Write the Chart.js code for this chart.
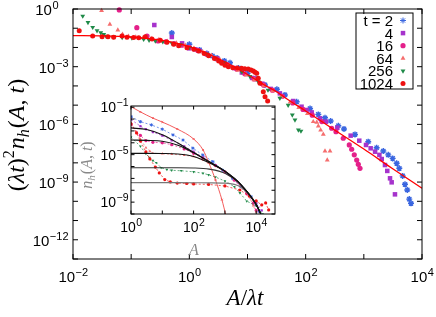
<!DOCTYPE html>
<html lang="en">
  <head>
    <meta charset="UTF-8" />
    <title>scaling collapse</title>
    <script src="https://cdn.jsdelivr.net/npm/chart.js@4.4.1/dist/chart.umd.min.js"></script>
    <style>
      html, body { margin: 0; padding: 0; background: #fff; }
      #wrap { position: relative; width: 436px; height: 317px; }
      #mainChart { position: absolute; left: 0; top: 0; }
      #insetChart { position: absolute; left: 70px; top: 96px; }
    </style>
  </head>
  <body>
    <div id="wrap">
      <canvas id="mainChart" width="436" height="317"></canvas>
      <canvas id="insetChart" width="210" height="166"></canvas>
    </div>
    <script>
      // ---- data ----
      const seriesLabels = ['t = 2', '4', '16', '64', '256', '1024'];
      const seriesColors = ['#3a66e0', '#a633cc', '#e4208a', '#f56e6e', '#1f8a48', '#ee1111'];

      // main plot: (lambda t)^2 n_h  vs  A / lambda t
      const t2X = [0.5, 1.0, 1.5, 2.0, 2.5, 3, 4, 5, 7, 10, 14, 20, 32, 44, 70, 119, 165, 215, 269, 364, 456, 705, 1190, 1660, 2160, 2630, 3130, 3670, 4070, 4650, 5100, 5580, 6040, 6470];
      const t2Y = [5.6e-2, 1.46e-2, 7.4e-3, 4.8e-3, 3.6e-3, 2.8e-3, 2.0e-3, 1.6e-3, 8.5e-4, 4.6e-4, 2.4e-4, 1.12e-4, 6.7e-5, 3.4e-5, 1.5e-5, 6.7e-6, 3.3e-6, 2.2e-6, 1.5e-6, 8.5e-7, 5.8e-7, 3.0e-7, 1.26e-7, 6.1e-8, 4.1e-8, 2.6e-8, 1.7e-8, 9.5e-9, 5.2e-9, 2.1e-9, 7.7e-10, 3.9e-10, 1.3e-10, 7.9e-11];
      const t4X = [0.25, 0.5, 0.75, 1.0, 1.25, 1.5, 2, 3, 4, 6, 8, 12, 18, 25, 36, 61, 85, 104, 127, 176, 223, 350, 594, 835, 1090, 1310, 1560, 1850, 2030, 2310, 2530, 2820, 3010, 3430];
      const t4Y = [0.147, 3.5e-2, 1.64e-2, 9.0e-3, 8.0e-3, 6.6e-3, 4.6e-3, 2.5e-3, 1.6e-3, 8.5e-4, 5e-4, 2.6e-4, 1.3e-4, 7e-5, 4.1e-5, 1.64e-5, 8.3e-6, 5.6e-6, 4.2e-6, 2.07e-6, 1.38e-6, 6.7e-7, 2.6e-7, 1.42e-7, 8.5e-8, 5.7e-8, 3.8e-8, 2.6e-8, 1.58e-8, 7.7e-9, 3.8e-9, 1.57e-9, 9.7e-10, 2.3e-10];
      const t16X = [0.0625, 0.125, 0.1875, 0.29, 0.4, 0.55, 0.75, 1.0, 1.4, 2, 3, 4.5, 6.5, 9, 13, 19, 27, 40, 60, 90, 130, 190, 280, 332, 443, 562, 618, 685, 754, 803, 859];
      const t16Y = [0.89, 0.107, 3.9e-2, 2.2e-2, 2.0e-2, 1.6e-2, 1.3e-2, 1.0e-2, 7.0e-3, 4.4e-3, 2.6e-3, 1.3e-3, 7.5e-4, 4.3e-4, 2.3e-4, 1.1e-4, 6e-5, 2.9e-5, 1.3e-5, 6e-6, 3.0e-6, 1.4e-6, 6.3e-7, 4.2e-7, 1.9e-7, 8.5e-8, 5.1e-8, 2.6e-8, 1.4e-8, 8.4e-9, 5.2e-9];
      const t64X = [0.031, 0.043, 0.059, 0.071, 0.09, 0.12, 0.16, 0.22, 0.3, 0.42, 0.6, 0.85, 1.2, 1.7, 2.4, 3.4, 4.8, 6.8, 9.5, 13, 19, 27, 38, 54, 76, 107, 135, 155, 165, 181, 201, 215, 235, 262];
      const t64Y = [0.82, 0.16, 8.1e-2, 4.8e-2, 3.8e-2, 3.5e-2, 3.2e-2, 2.9e-2, 2.6e-2, 2.1e-2, 1.7e-2, 1.3e-2, 9e-3, 6e-3, 3.9e-3, 2.2e-3, 1.2e-3, 6.5e-4, 3.7e-4, 2.1e-4, 1.05e-4, 5.5e-5, 2.8e-5, 1.45e-5, 7.5e-6, 3.6e-6, 1.38e-6, 1.29e-6, 8.2e-7, 5.1e-7, 3.05e-7, 4.1e-8, 1.4e-8, 4.1e-8];
      const t256X = [0.0147, 0.0181, 0.0218, 0.0259, 0.030, 0.0337, 0.037, 0.05, 0.07, 0.103, 0.164, 0.203, 0.26, 0.35, 0.5, 0.7, 1.0, 1.4, 2, 2.8, 4, 5.6, 8, 11, 15.3, 22.5, 36, 50, 59, 65.5, 75, 83];
      const t256Y = [0.43, 0.20, 0.112, 7.4e-2, 5.9e-2, 4.8e-2, 3.9e-2, 3.6e-2, 3.3e-2, 3.1e-2, 2.65e-2, 2.4e-2, 2.2e-2, 2.0e-2, 1.7e-2, 1.4e-2, 1.0e-2, 7e-3, 4.6e-3, 2.8e-3, 1.6e-3, 9e-4, 5.4e-4, 3.1e-4, 1.65e-4, 6.1e-5, 2.3e-5, 1.0e-5, 3.1e-6, 1.7e-6, 5.1e-7, 4.5e-7];
      const t1024X = [0.0128, 0.0218, 0.0316, 0.040, 0.050, 0.0695, 0.0847, 0.11, 0.135, 0.175, 0.228, 0.317, 0.413, 0.538, 0.656, 0.91, 1.2, 1.45, 1.8, 2.15, 2.7, 3.2, 3.6, 4.1, 4.7, 5.6, 6.7, 7.9, 9, 10.3, 11.5, 12.6, 13.5, 14.4, 15.3, 16.4, 18.7, 20, 22.2, 24.4];
      const t1024Y = [7.4e-2, 3.9e-2, 3.6e-2, 3.6e-2, 3.4e-2, 3.9e-2, 3.4e-2, 3.3e-2, 3.2e-2, 3.6e-2, 2.75e-2, 2.4e-2, 1.85e-2, 1.46e-2, 1.24e-2, 9.7e-3, 8.0e-3, 6.5e-3, 4.9e-3, 3.7e-3, 2.7e-3, 2.0e-3, 1.5e-3, 1.2e-3, 1.0e-3, 8.9e-4, 8.5e-4, 8.2e-4, 7.9e-4, 7.6e-4, 6.8e-4, 6.0e-4, 5.2e-4, 4.5e-4, 2.5e-4, 1.37e-4, 5.0e-5, 2.75e-5, 1.64e-5, 3.3e-6];
      const fitX = [0.01, 0.03, 0.1, 0.3, 0.5, 1, 2, 3, 5, 10, 20, 30, 50, 100, 300, 1000, 3000, 10000];
      const fitY = [4.1e-2, 4.0e-2, 3.5e-2, 2.5e-2, 1.9e-2, 1.1e-2, 5.0e-3, 2.8e-3, 1.3e-3, 3.9e-4, 1.07e-4, 5.5e-5, 1.9e-5, 5e-6, 5.6e-7, 5.2e-8, 5.4e-9, 4.8e-10];

      // inset: n_h(A,t) vs A
      const in2A = [1, 2, 4.5, 10, 22, 46, 95, 197, 410, 850, 1770, 3270, 6800, 9800, 12400];
      const in2N = [1.6e-2, 6e-3, 3.2e-3, 1.4e-3, 4.6e-4, 1.7e-4, 3.5e-5, 9.3e-6, 2.6e-6, 4.9e-7, 1.0e-7, 2.0e-8, 2.9e-9, 5.8e-10, 1.6e-10];
      const in4A = [1, 2, 3, 5, 10, 20, 50, 100, 200, 500, 1000, 2000, 5000, 10000, 15000];
      const in4N = [9.2e-3, 2.5e-3, 1.4e-3, 8e-4, 4e-4, 1.6e-4, 5e-5, 1.8e-5, 6e-6, 1.3e-6, 3.5e-7, 8e-8, 7e-9, 9e-10, 2e-10];
      const in16A = [1, 2, 3, 5, 10, 20, 50, 100, 200, 500, 1000, 2000, 5000, 8000, 10000];
      const in16N = [3.5e-3, 4.2e-4, 1.5e-4, 1.1e-4, 1.0e-4, 7e-5, 3e-5, 1.3e-5, 5e-6, 1.2e-6, 3.5e-7, 7e-8, 5e-9, 8e-10, 2e-10];
      const in64A = [1, 2, 3, 4, 5, 10, 20, 50, 100, 200, 300, 1000, 3000, 6000, 8000, 10000];
      const in64N = [4.7e-3, 2e-4, 3.9e-5, 2e-5, 1.3e-5, 1.2e-5, 1.1e-5, 9e-6, 7e-6, 3.5e-6, 2e-6, 3.8e-7, 3e-8, 3e-9, 5e-10, 1.5e-10];
      const in256A = [1, 2, 3, 3.9, 5, 6.4, 9.2, 14, 20, 40, 100, 200, 300, 500, 1000, 2000, 3000, 5000, 10000, 16000];
      const in256N = [3e-4, 5e-5, 1.2e-5, 5.6e-6, 3.2e-6, 2.1e-6, 8e-7, 5.5e-7, 4.8e-7, 4.4e-7, 3.6e-7, 2.7e-7, 2e-7, 1.3e-7, 6e-8, 2e-8, 6e-9, 1.2e-9, 5e-10, 1e-10];
      const in1024A = [1, 1.5, 2, 3, 4, 6, 8, 12, 18, 30, 60, 100, 300, 1000, 3000, 6000, 10000, 15000, 20000, 25000];
      const in1024N = [4e-3, 6.8e-4, 1.4e-4, 1.7e-5, 4.4e-6, 9e-7, 2.9e-7, 8e-8, 5e-8, 4e-8, 3.7e-8, 3.4e-8, 3.1e-8, 2.3e-8, 1.05e-8, 3.3e-9, 1.26e-9, 5.8e-10, 8.5e-10, 2.2e-10];
      const inTopA = [1, 2, 5, 10, 30, 100, 200, 300, 500, 800, 1100];
      const inTopN = [0.11, 0.04, 1.2e-2, 5.6e-3, 1.45e-3, 2.1e-4, 2.5e-5, 2.4e-6, 7.4e-8, 1.6e-9, 6e-11];
      const fitA = [1, 3.16, 10, 31.6, 100, 316, 1000, 3162, 10000, 14000];
      const fit4N = [1.8e-3, 1.3e-3, 4.8e-4, 9.5e-5, 1.55e-5, 2.5e-6, 4e-7, 3.2e-8, 6.3e-10, 1e-10];
      const fit16N = [1.7e-4, 1.6e-4, 1.35e-4, 6.3e-5, 1.45e-5, 2.5e-6, 4e-7, 3.2e-8, 6.3e-10, 1e-10];
      const fit64N = [1.29e-5, 1.29e-5, 1.27e-5, 1.15e-5, 7.1e-6, 2.1e-6, 3.9e-7, 3.2e-8, 6.3e-10, 1e-10];
      const fit256N = [7.9e-7, 7.9e-7, 7.9e-7, 7.9e-7, 7.6e-7, 6.0e-7, 2.66e-7, 3.1e-8, 6.2e-10, 1e-10];
      const fit1024N = [4.4e-8, 4.4e-8, 4.4e-8, 4.4e-8, 4.35e-8, 4.2e-8, 4.0e-8, 1.86e-8, 6.2e-10, 1e-10];

      // axis ticks (decade exponents)
      const mainXTicks = [-2, -1, 0, 1, 2, 3, 4];
      const mainXLabels = [-2, 0, 2, 4];
      const mainYTicks = [-13, -12, -11, -10, -9, -8, -7, -6, -5, -4, -3, -2, -1, 0];
      const mainYLabels = [0, -3, -6, -9, -12];
      const insetXTicks = [0, 1, 2, 3, 4];
      const insetXLabels = [0, 2, 4];
      const insetYTicks = [-10, -9, -8, -7, -6, -5, -4, -3, -2, -1];
      const insetYLabels = [-1, -5, -9];

      const pts = (xs, ys) => xs.map((x, i) => ({x: x, y: ys[i]}));
      const SANS = '"Liberation Sans", Arial, sans-serif';
      const SERIF = '"Liberation Serif", "DejaVu Serif", serif';

      const markerStyles = [
        {pointStyle: 'star', radius: 3, borderWidth: 1.4, rotation: 0},
        {pointStyle: 'rect', radius: 3.2, borderWidth: 0, rotation: 0},
        {pointStyle: 'circle', radius: 2.6, borderWidth: 0, rotation: 0},
        {pointStyle: 'triangle', radius: 2.8, borderWidth: 0, rotation: 0},
        {pointStyle: 'triangle', radius: 2.8, borderWidth: 0, rotation: 180},
        {pointStyle: 'circle', radius: 2.5, borderWidth: 0, rotation: 0}
      ];

      // draws "10^e"
      function drawPow(ctx, e, x, y, align, o) {
        const base = '10';
        const ex = e < 0 ? '\u2212' + (-e) : String(e);
        ctx.font = o.baseFont;
        const wb = ctx.measureText(base).width;
        ctx.font = o.expFont;
        const we = ctx.measureText(ex).width;
        let x0 = align === 'center' ? x - (wb + we) / 2 : x - wb - we;
        ctx.textAlign = 'left';
        ctx.textBaseline = 'alphabetic';
        ctx.font = o.baseFont;
        ctx.fillText(base, x0, y);
        ctx.font = o.expFont;
        ctx.fillText(ex, x0 + wb + 0.5, y - o.raise);
      }

      function drawFrame(chart, o) {
        const {ctx, chartArea: a, scales} = chart;
        const sx = scales.x, sy = scales.y;
        ctx.save();
        ctx.strokeStyle = '#000';
        ctx.lineWidth = 1;
        ctx.beginPath();
        o.xTicks.forEach((e) => {
          const px = sx.getPixelForValue(Math.pow(10, e));
          ctx.moveTo(px, a.bottom); ctx.lineTo(px, a.bottom - o.tickLen);
          ctx.moveTo(px, a.top); ctx.lineTo(px, a.top + o.tickLen);
        });
        o.yTicks.forEach((e) => {
          const py = sy.getPixelForValue(Math.pow(10, e));
          ctx.moveTo(a.left, py); ctx.lineTo(a.left + o.tickLen, py);
          ctx.moveTo(a.right, py); ctx.lineTo(a.right - o.tickLen, py);
        });
        ctx.stroke();
        ctx.strokeRect(a.left, a.top, a.right - a.left, a.bottom - a.top);
        ctx.fillStyle = '#000';
        o.xLabels.forEach((e) => {
          drawPow(ctx, e, sx.getPixelForValue(Math.pow(10, e)), a.bottom + o.xLabelDy, 'center', o);
        });
        o.yLabels.forEach((e) => {
          const shift = e >= 0 ? o.posShift : 0;
          drawPow(ctx, e, a.left - o.yLabelDx - shift, sy.getPixelForValue(Math.pow(10, e)) + o.yLabelDy, 'right', o);
        });
        ctx.restore();
      }

      // text runs along a line, centred on (cx, cy), optionally rotated
      function drawRuns(ctx, runs, cx, cy, rot, color) {
        ctx.save();
        ctx.translate(cx, cy);
        ctx.rotate(rot);
        ctx.fillStyle = color;
        ctx.textAlign = 'left';
        ctx.textBaseline = 'alphabetic';
        let total = 0;
        runs.forEach((r) => { ctx.font = r.f; r.w = ctx.measureText(r.t).width + (r.gap || 0); total += r.w; });
        let x = -total / 2;
        runs.forEach((r) => { ctx.font = r.f; ctx.fillText(r.t, x, r.dy || 0); x += r.w; });
        ctx.restore();
      }

      const mainFrame = {
        id: 'mainFrame',
        afterDraw(chart) {
          const ctx = chart.ctx;
          drawFrame(chart, {
            xTicks: mainXTicks, yTicks: mainYTicks, xLabels: mainXLabels, yLabels: mainYLabels,
            tickLen: 5, baseFont: '15px ' + SANS, expFont: '11px ' + SANS, raise: 6,
            xLabelDy: 23, yLabelDx: 5, yLabelDy: 6, posShift: 10
          });
          // key
          ctx.save();
          ctx.strokeStyle = '#000';
          ctx.lineWidth = 1;
          ctx.strokeRect(356, 13, 57, 76);
          ctx.font = '15px ' + SANS;
          ctx.textAlign = 'right';
          ctx.fillStyle = '#000';
          seriesLabels.forEach((lab, i) => {
            const cy = 20.5 + i * 12.6;
            ctx.fillText(lab, 393, cy + 5.5);
            ctx.fillStyle = seriesColors[i];
            ctx.strokeStyle = seriesColors[i];
            Chart.helpers.drawPoint(ctx, markerStyles[i], 403, cy);
            ctx.fillStyle = '#000';
          });
          ctx.restore();
          // axis titles
          const it = 'italic 23px ' + SERIF, up = '23px ' + SERIF;
          drawRuns(ctx, [{t: 'A', f: it}, {t: '/', f: up}, {t: '\u03bbt', f: it}], 245, 305, 0, '#000');
          const iy = 'italic 24px ' + SERIF, uy = '24px ' + SERIF, sm = 'italic 16px ' + SERIF;
          drawRuns(ctx, [
            {t: '(', f: uy}, {t: '\u03bbt', f: iy}, {t: ')', f: uy},
            {t: '2', f: '16px ' + SERIF, dy: -10, gap: 1}, {t: 'n', f: iy}, {t: 'h', f: sm, dy: 5, gap: 1},
            {t: '(', f: uy}, {t: 'A', f: iy}, {t: ', ', f: uy}, {t: 't', f: iy}, {t: ')', f: uy}
          ], 24, 135, -Math.PI / 2, '#000');
        }
      };

      const insetFrame = {
        id: 'insetFrame',
        beforeDatasetsDraw(chart) {
          const {ctx, chartArea: a} = chart;
          ctx.save();
          ctx.fillStyle = '#fff';
          ctx.fillRect(a.left, a.top, a.right - a.left, a.bottom - a.top);
          ctx.restore();
        },
        afterDraw(chart) {
          drawFrame(chart, {
            xTicks: insetXTicks, yTicks: insetYTicks, xLabels: insetXLabels, yLabels: insetYLabels,
            tickLen: 3.5, baseFont: '14px ' + SANS, expFont: '10.5px ' + SANS, raise: 6,
            xLabelDy: 18, yLabelDx: 3, yLabelDy: 5, posShift: 0
          });
          const ctx = chart.ctx;
          drawRuns(ctx, [{t: 'A', f: 'italic 16px ' + SERIF}], 124, 159, 0, '#888');
          drawRuns(ctx, [
            {t: 'n', f: 'italic 16px ' + SERIF}, {t: 'h', f: 'italic 11px ' + SERIF, dy: 3, gap: 1},
            {t: '(', f: '16px ' + SERIF}, {t: 'A', f: 'italic 16px ' + SERIF}, {t: ', ', f: '16px ' + SERIF},
            {t: 't', f: 'italic 16px ' + SERIF}, {t: ')', f: '16px ' + SERIF}
          ], 22, 69, -Math.PI / 2, '#888');
        }
      };

      // ---- main chart ----
      const mainSets = [[t2X, t2Y], [t4X, t4Y], [t16X, t16Y], [t64X, t64Y], [t256X, t256Y], [t1024X, t1024Y]];
      const mainDatasets = mainSets.map((s, i) => ({
        label: seriesLabels[i],
        data: pts(s[0], s[1]),
        showLine: false,
        pointStyle: markerStyles[i].pointStyle,
        pointRadius: markerStyles[i].radius,
        pointRotation: markerStyles[i].rotation,
        pointBorderWidth: markerStyles[i].borderWidth,
        pointBackgroundColor: seriesColors[i],
        pointBorderColor: seriesColors[i],
        order: 6 - i,
        clip: false
      }));
      mainDatasets.push({
        label: 'fit',
        data: pts(fitX, fitY),
        showLine: true,
        pointRadius: 0,
        borderColor: '#ff0000',
        borderWidth: 1.3,
        cubicInterpolationMode: 'monotone',
        order: 0,
        clip: 0
      });

      new Chart(document.getElementById('mainChart'), {
        type: 'scatter',
        data: {datasets: mainDatasets},
        options: {
          responsive: false,
          animation: false,
          layout: {padding: {left: 73, top: 9, right: 14, bottom: 58}},
          plugins: {legend: {display: false}, tooltip: {enabled: false}},
          scales: {
            x: {type: 'logarithmic', min: 0.01, max: 1e4, display: false},
            y: {type: 'logarithmic', min: 1e-13, max: 1, display: false}
          }
        },
        plugins: [mainFrame]
      });

      // ---- inset chart ----
      const insetSets = [[in2A, in2N], [in4A, in4N], [in16A, in16N], [in64A, in64N], [in256A, in256N], [in1024A, in1024N]];
      const insetDatasets = [];
      const fits = [fit4N, fit16N, fit64N, fit256N, fit1024N];
      fits.forEach((f, i) => {
        insetDatasets.push({
          data: pts(fitA, f), showLine: true, pointRadius: 0,
          borderColor: i < 3 ? '#111' : (i === 3 ? '#333' : '#777'), borderWidth: 1.1,
          cubicInterpolationMode: 'monotone', order: 1, clip: 0
        });
      });
      insetSets.forEach((s, i) => {
        insetDatasets.push({
          data: pts(s[0], s[1]), showLine: true,
          borderColor: seriesColors[i], borderWidth: 0.7, borderDash: [2, 2],
          pointStyle: markerStyles[i].pointStyle,
          pointRadius: 1.6, pointRotation: markerStyles[i].rotation, pointBorderWidth: i === 0 ? 1 : 0,
          pointBackgroundColor: seriesColors[i], pointBorderColor: seriesColors[i],
          order: 8 - i, clip: 0
        });
      });
      insetDatasets.push({
        data: pts(inTopA, inTopN), showLine: true,
        borderColor: '#f24a4a', borderWidth: 0.9,
        pointStyle: 'crossRot', pointRadius: 1.3, pointBorderWidth: 0.8,
        pointBorderColor: '#f24a4a', cubicInterpolationMode: 'monotone',
        order: 2, clip: 0
      });

      new Chart(document.getElementById('insetChart'), {
        type: 'scatter',
        data: {datasets: insetDatasets},
        options: {
          responsive: false,
          animation: false,
          layout: {padding: {left: 61, top: 10, right: 4, bottom: 48}},
          plugins: {legend: {display: false}, tooltip: {enabled: false}},
          scales: {
            x: {type: 'logarithmic', min: 1, max: 39811, display: false},
            y: {type: 'logarithmic', min: 1e-10, max: 0.126, display: false}
          }
        },
        plugins: [insetFrame]
      });
    </script>
  </body>
</html>
